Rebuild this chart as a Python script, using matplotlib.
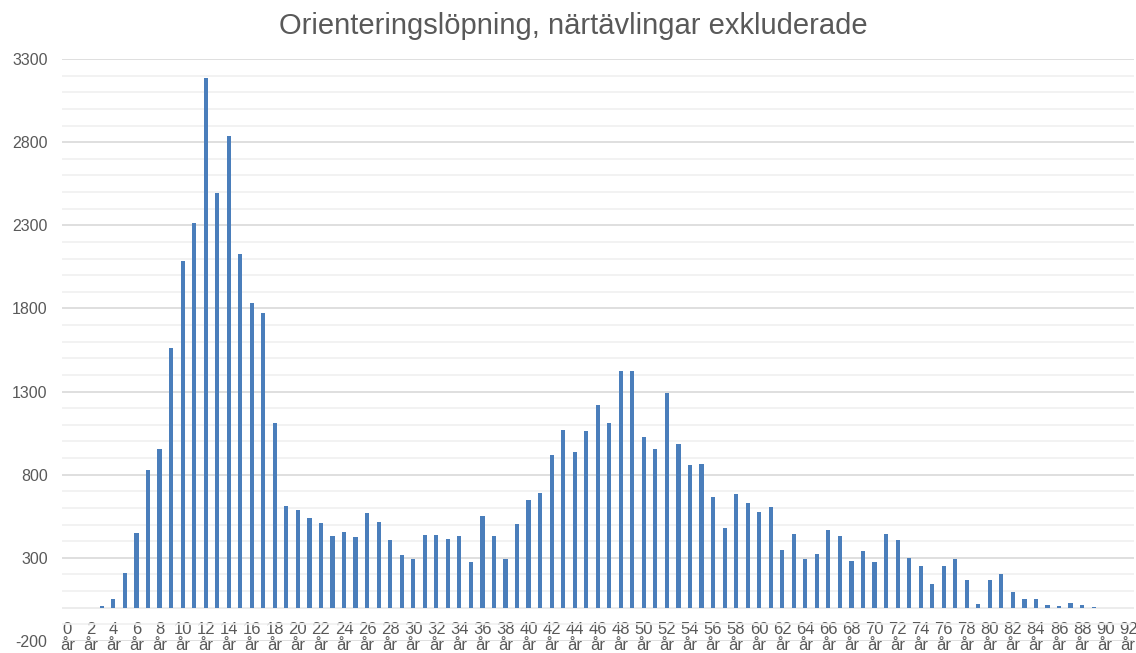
import matplotlib
matplotlib.use("Agg")
import matplotlib.pyplot as plt
from matplotlib.ticker import MultipleLocator
import numpy as np

plt.rcParams['font.family'] = ['Liberation Sans', 'DejaVu Sans']
plt.rcParams['axes.unicode_minus'] = False

# antal deltagare per ålder (0-92 år)
ages = list(range(0, 93))
counts = [0, 0, 0, 8, 50, 207, 449, 829, 955, 1561,
          2085, 2311, 3183, 2493, 2835, 2127, 1831, 1771, 1113, 609,
          588, 539, 511, 433, 455, 423, 569, 517, 405, 319,
          291, 435, 439, 411, 433, 273, 549, 433, 294, 501,
          647, 689, 917, 1067, 935, 1063, 1221, 1113, 1421, 1423,
          1027, 957, 1289, 985, 861, 865, 665, 481, 687, 631,
          573, 607, 345, 441, 291, 323, 465, 433, 283, 343,
          277, 445, 405, 301, 249, 145, 253, 293, 165, 25,
          169, 203, 95, 53, 53, 15, 12, 31, 17, 2,
          0, 0, 0]
tick_ages = ages[::2]
tick_labels = [f"{a}\når" for a in tick_ages]
y_ticks = [-200, 300, 800, 1300, 1800, 2300, 2800, 3300]

title = "Orienteringslöpning, närtävlingar exkluderade"
txt = '#595959'

fig = plt.figure(figsize=(11.36, 6.53), dpi=100)
ax = fig.add_axes([61.5/1136, 12/653, (1134-61.5)/1136, (641-59)/653])

ax.bar(ages, counts, width=0.36, color='#4a7ebb', zorder=3)

ax.set_xlim(-0.5, 92.5)
ax.set_ylim(-200, 3300)
ax.set_yticks(y_ticks)
ax.yaxis.set_minor_locator(MultipleLocator(100))
ax.grid(axis='y', which='major', color='#d9d9d9', lw=1.2, zorder=0)
ax.grid(axis='y', which='minor', color='#f0f0f0', lw=1.2, zorder=0)
ax.axhline(0, color='#d9d9d9', lw=1.3, zorder=1)
for s in ax.spines.values():
    s.set_visible(False)

ax.set_xticks(tick_ages, tick_labels)
ax.tick_params(axis='x', length=0, pad=-14, labelsize=12, labelcolor=txt)
ax.tick_params(axis='y', which='both', length=0, pad=10, labelsize=11.5, labelcolor=txt)
for lab in ax.get_xticklabels():
    lab.set_linespacing(1.12)

fig.text(0.505, 0.96, title, ha='center', va='center', fontsize=21, color=txt)

fig.savefig('out.png', dpi=100)
